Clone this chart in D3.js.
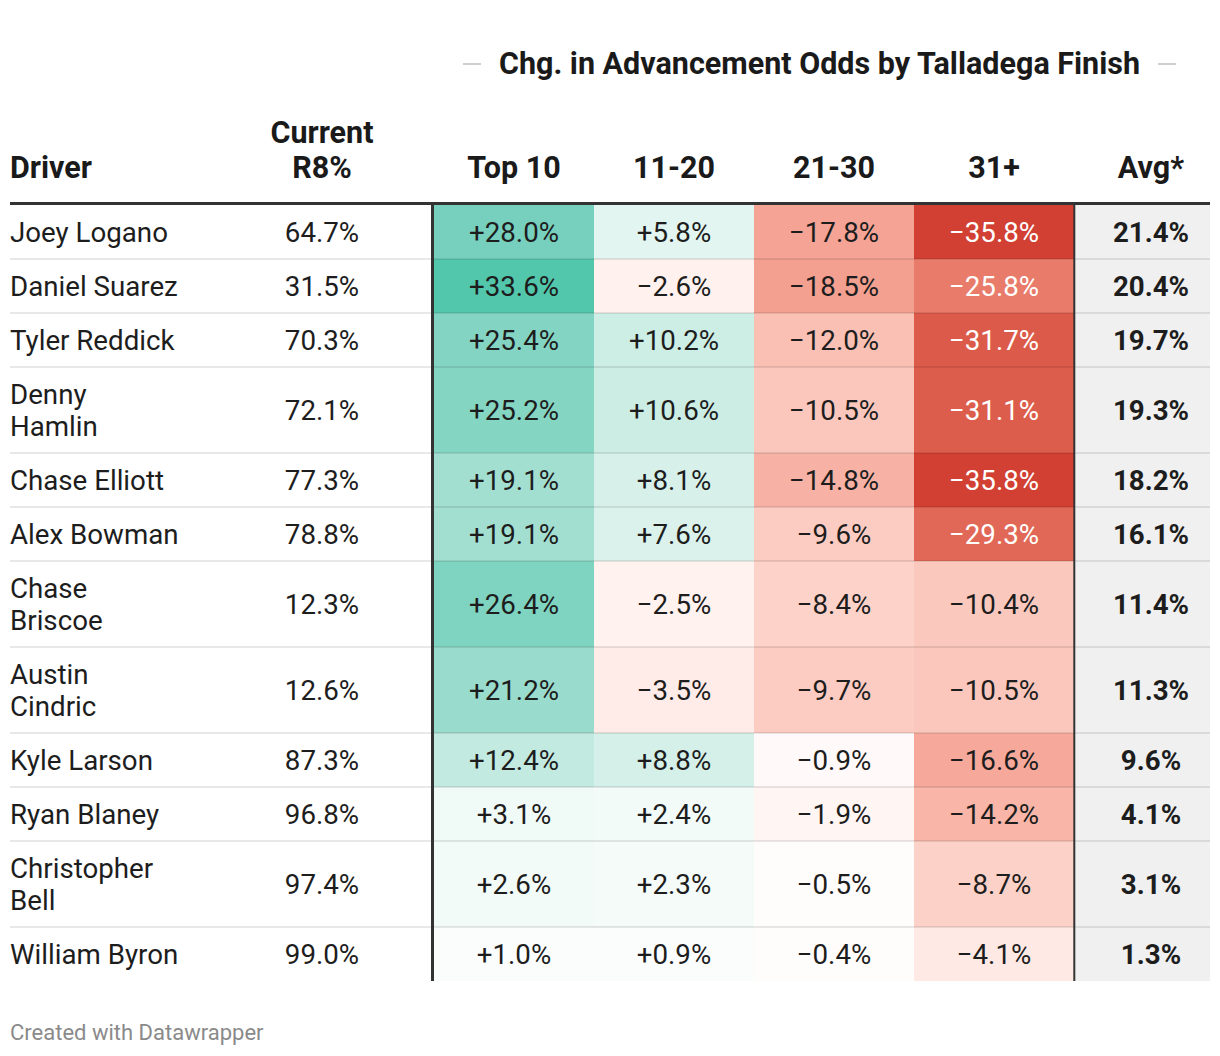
<!DOCTYPE html>
<html>
<head>
<meta charset="utf-8">
<script src="https://cdn.jsdelivr.net/npm/d3@7"></script>
<style>
  html, body { margin: 0; padding: 0; background: #fff; }
  svg { display: block; font-family: Roboto, "Noto Sans", sans-serif; }
</style>
</head>
<body>
<svg id="chart" width="1220" height="1056"></svg>
<script>
// ---------- DATA ----------
const title = "Chg. in Advancement Odds by Talladega Finish";
const footer = "Created with Datawrapper";
const drivers = ["Joey Logano", "Daniel Suarez", "Tyler Reddick", "Denny\nHamlin", "Chase Elliott", "Alex Bowman",
  "Chase\nBriscoe", "Austin\nCindric", "Kyle Larson", "Ryan Blaney", "Christopher\nBell", "William Byron"];
const currentR8 = [64.7, 31.5, 70.3, 72.1, 77.3, 78.8, 12.3, 12.6, 87.3, 96.8, 97.4, 99.0];
const finishCols = ["Top 10", "11-20", "21-30", "31+"];
const top10 = [28.0, 33.6, 25.4, 25.2, 19.1, 19.1, 26.4, 21.2, 12.4, 3.1, 2.6, 1.0];
const f11to20 = [5.8, -2.6, 10.2, 10.6, 8.1, 7.6, -2.5, -3.5, 8.8, 2.4, 2.3, 0.9];
const f21to30 = [-17.8, -18.5, -12.0, -10.5, -14.8, -9.6, -8.4, -9.7, -0.9, -1.9, -0.5, -0.4];
const f31plus = [-35.8, -25.8, -31.7, -31.1, -35.8, -29.3, -10.4, -10.5, -16.6, -14.2, -8.7, -4.1];
const avgChg = [21.4, 20.4, 19.7, 19.3, 18.2, 16.1, 11.4, 11.3, 9.6, 4.1, 3.1, 1.3];
const headDriver = ["Driver"];
const headCurrent = ["Current", "R8%"];
const headAvg = ["Avg*"];

// ---------- LAYOUT / STYLE ----------
const seriesByCol = [top10, f11to20, f21to30, f31plus];
const svg = d3.select("#chart");
const tableLeft = 10, tableRight = 1210;
const headLineY = 203.5;
const rowTop = 205;
const singleH = 54, lineStep = 32;
const textColor = "#1d1d1d";
const bodySize = 27.7, headSize = 30.5;

const nameLines = drivers.map(d => d.split("\n"));
const rowHeights = nameLines.map(l => singleH + (l.length - 1) * lineStep);
const rowStarts = [];
rowHeights.reduce((acc, h) => { rowStarts.push(acc); return acc + h; }, rowTop);
const tableBottom = rowStarts[rowStarts.length - 1] + rowHeights[rowHeights.length - 1];

const x = d3.scaleBand().domain(finishCols).range([434, 1074]);
const avgX0 = 1075, avgCenter = 1151;
const currentCenter = 322;

const color = d3.scaleLinear()
  .domain([-36, -26, -18, -10.5, 0, 10.5, 19, 28, 34])
  .range(["#d23e32", "#e87a69", "#f4a294", "#fbc7bc", "#ffffff", "#cbede4", "#a3dfd1", "#77d0bd", "#4fc6ab"])
  .interpolate(d3.interpolateLab)
  .clamp(true);

const fmtSigned = v => (v > 0 ? "+" : v < 0 ? "\u2212" : "") + Math.abs(v).toFixed(1) + "%";
const fmtPct = v => v.toFixed(1) + "%";
const capHalf = s => s * 0.711 / 2;

// ---------- TITLE ----------
const titleCenter = 819.5, titleBase = 74;
const tt = svg.append("text")
  .attr("x", titleCenter).attr("y", titleBase)
  .attr("text-anchor", "middle")
  .attr("font-size", headSize).attr("font-weight", 700)
  .attr("fill", "#1a1a1a")
  .text(title);
const tw = tt.node().getComputedTextLength();
[[titleCenter - tw / 2 - 36, titleCenter - tw / 2 - 18], [titleCenter + tw / 2 + 18, titleCenter + tw / 2 + 36]]
  .forEach(([a, b]) => svg.append("line")
    .attr("x1", a).attr("x2", b).attr("y1", 64).attr("y2", 64)
    .attr("stroke", "#cfcfcf").attr("stroke-width", 2));

// ---------- HEADERS ----------
const headBase = 177.5;
function headText(lines, cx, anchor) {
  lines.forEach((t, i) => {
    const y = headBase - (lines.length - 1 - i) * 35;
    svg.append("text")
      .attr("x", cx).attr("y", y)
      .attr("text-anchor", anchor)
      .attr("font-size", headSize).attr("font-weight", 700)
      .attr("fill", "#1a1a1a")
      .text(t);
  });
}
headText(headDriver, tableLeft, "start");
headText(headCurrent, currentCenter, "middle");
finishCols.forEach(c => headText([c], x(c) + x.bandwidth() / 2, "middle"));
headText(headAvg, avgCenter, "middle");

// ---------- CELLS ----------
const rows = svg.append("g");
drivers.forEach((d, i) => {
  const y0 = rowStarts[i], h = rowHeights[i];
  const g = rows.append("g");
  finishCols.forEach((c, j) => {
    const v = seriesByCol[j][i];
    g.append("rect")
      .attr("x", x(c)).attr("y", y0).attr("width", x.bandwidth()).attr("height", h)
      .attr("fill", color(v));
  });
  g.append("rect").attr("x", avgX0).attr("y", y0).attr("width", tableRight - avgX0).attr("height", h)
    .attr("fill", "#f0f0f0");
});

// row separators
rowStarts.slice(1).forEach(y => {
  svg.append("line").attr("x1", tableLeft).attr("x2", tableRight)
    .attr("y1", y).attr("y2", y)
    .attr("stroke", "rgba(0,0,0,0.09)").attr("stroke-width", 2);
});

// texts
drivers.forEach((d, i) => {
  const y0 = rowStarts[i], h = rowHeights[i], cy = y0 + h / 2;
  const base = cy + capHalf(bodySize);
  const lines = nameLines[i];
  lines.forEach((t, k) => {
    svg.append("text")
      .attr("x", tableLeft).attr("y", base + (k - (lines.length - 1) / 2) * lineStep)
      .attr("font-size", bodySize).attr("fill", textColor)
      .text(t);
  });
  svg.append("text")
    .attr("x", currentCenter).attr("y", base).attr("text-anchor", "middle")
    .attr("font-size", bodySize).attr("fill", textColor)
    .text(fmtPct(currentR8[i]));
  finishCols.forEach((c, j) => {
    const v = seriesByCol[j][i];
    const cx = x(c) + x.bandwidth() / 2;
    svg.append("text")
      .attr("x", cx).attr("y", base).attr("text-anchor", "middle")
      .attr("font-size", bodySize)
      .attr("fill", v < -24 ? "#ffffff" : textColor)
      .text(fmtSigned(v));
  });
  svg.append("text")
    .attr("x", avgCenter).attr("y", base).attr("text-anchor", "middle")
    .attr("font-size", bodySize).attr("font-weight", 700).attr("fill", textColor)
    .text(fmtPct(avgChg[i]));
});

// header rule and vertical dividers
svg.append("line").attr("x1", tableLeft).attr("x2", tableRight)
  .attr("y1", headLineY).attr("y2", headLineY)
  .attr("stroke", "#333").attr("stroke-width", 3);
svg.append("line").attr("x1", 432.5).attr("x2", 432.5)
  .attr("y1", headLineY).attr("y2", tableBottom)
  .attr("stroke", "#333").attr("stroke-width", 3);
svg.append("line").attr("x1", 1074.3).attr("x2", 1074.3)
  .attr("y1", headLineY).attr("y2", tableBottom)
  .attr("stroke", "#333").attr("stroke-width", 2);

// ---------- FOOTER ----------
svg.append("text").attr("x", tableLeft).attr("y", 1040)
  .attr("font-size", 22).attr("fill", "#8a8a8a")
  .text(footer);
</script>
</body>
</html>
